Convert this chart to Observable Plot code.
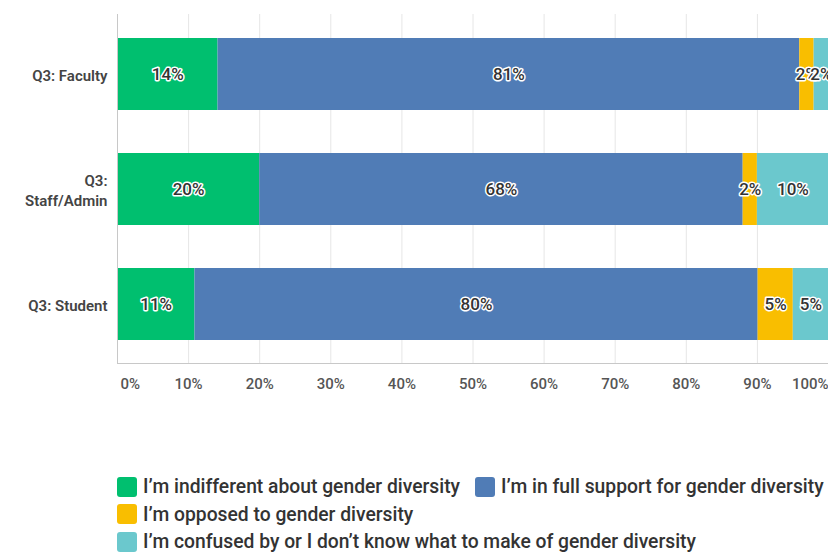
<!DOCTYPE html>
<html>
<head>
<meta charset="utf-8">
<script src="https://cdn.jsdelivr.net/npm/d3@7"></script>
<script src="https://cdn.jsdelivr.net/npm/@observablehq/plot@0.6"></script>
<style>
  html, body { margin: 0; padding: 0; background: #fff; }
  body { width: 828px; height: 553px; overflow: hidden; font-family: Roboto, "Noto Sans", sans-serif; }
  #legend { margin-left: 117px; margin-top: 73px; width: 711px; color: #333; font-size: 19.3px; font-weight: 500; }
  .row { display: flex; align-items: center; height: 27.5px; white-space: nowrap; }
  .item { display: flex; align-items: center; margin-right: 15px; }
  .sw { width: 20px; height: 20px; border-radius: 3px; margin-right: 6px; }
</style>
</head>
<body>
<div id="chart"></div>
<div id="legend"></div>
<script>
const categories = ["Q3: Faculty", "Q3:\nStaff/Admin", "Q3: Student"];
const seriesNames = [
  "I’m indifferent about gender diversity",
  "I’m in full support for gender diversity",
  "I’m opposed to gender diversity",
  "I’m confused by or I don’t know what to make of gender diversity"
];
const colors = ["#00bf6f", "#507cb6", "#f9be00", "#6bc8cd"];
const indifferent = [14, 20, 11];
const support = [81, 68, 80];
const opposed = [2, 2, 5];
const confused = [2, 10, 5];
const tickValues = [0, 10, 20, 30, 40, 50, 60, 70, 80, 90, 100];
const legendRows = [[0, 1], [2], [3]];

const seriesValues = [indifferent, support, opposed, confused];
const data = [];
seriesNames.forEach((s, si) => {
  categories.forEach((c, ci) => {
    data.push({series: s, group: c, value: seriesValues[si][ci]});
  });
});
const ticks = tickValues.map(v => ({v: v / 100, label: v + "%"}));

const stackOpts = {x: "value", y: "group", z: "series", offset: "normalize", order: null};
const tickStyle = {frameAnchor: "bottom", dy: 25, text: "label", fill: "#555", fontSize: 15, fontWeight: 500};

const chart = Plot.plot({
  width: 828,
  height: 400,
  marginLeft: 117,
  marginRight: 0,
  marginTop: 14,
  marginBottom: 37,
  style: {fontFamily: "Roboto, 'Noto Sans', sans-serif", background: "#fff"},
  x: {domain: [0, 1], axis: null},
  y: {domain: categories, paddingInner: 0.374, paddingOuter: 0.2, align: 0.5, label: null},
  color: {domain: seriesNames, range: colors},
  marks: [
    Plot.ruleX(ticks, {x: "v", stroke: "#e6e6e6", strokeWidth: 1}),
    Plot.barX(data, Plot.stackX({...stackOpts, fill: "series"})),
    Plot.text(data, Plot.stackX({...stackOpts, text: d => d.value + "%", fill: "#333",
      stroke: "white", strokeWidth: 3, fontSize: 17, fontWeight: 500})),
    Plot.ruleX([0], {stroke: "#c8c8c8"}),
    Plot.frame({anchor: "bottom", stroke: "#c8c8c8"}),
    Plot.axisY({tickSize: 0, tickPadding: 10, fontSize: 15, fontWeight: 600, color: "#444", lineHeight: 1.35}),
    Plot.text(ticks.filter(t => t.v > 0 && t.v < 1), {x: "v", ...tickStyle}),
    Plot.text(ticks.filter(t => t.v === 0), {x: "v", ...tickStyle, dx: 3, textAnchor: "start"}),
    Plot.text(ticks.filter(t => t.v === 1), {x: "v", ...tickStyle, textAnchor: "end"})
  ]
});
document.getElementById("chart").appendChild(chart);

const legend = document.getElementById("legend");
legendRows.forEach(r => {
  const row = document.createElement("div");
  row.className = "row";
  r.forEach(i => {
    const item = document.createElement("div");
    item.className = "item";
    const sw = document.createElement("div");
    sw.className = "sw";
    sw.style.background = colors[i];
    const t = document.createElement("span");
    t.textContent = seriesNames[i];
    item.appendChild(sw);
    item.appendChild(t);
    row.appendChild(item);
  });
  legend.appendChild(row);
});
</script>
</body>
</html>
